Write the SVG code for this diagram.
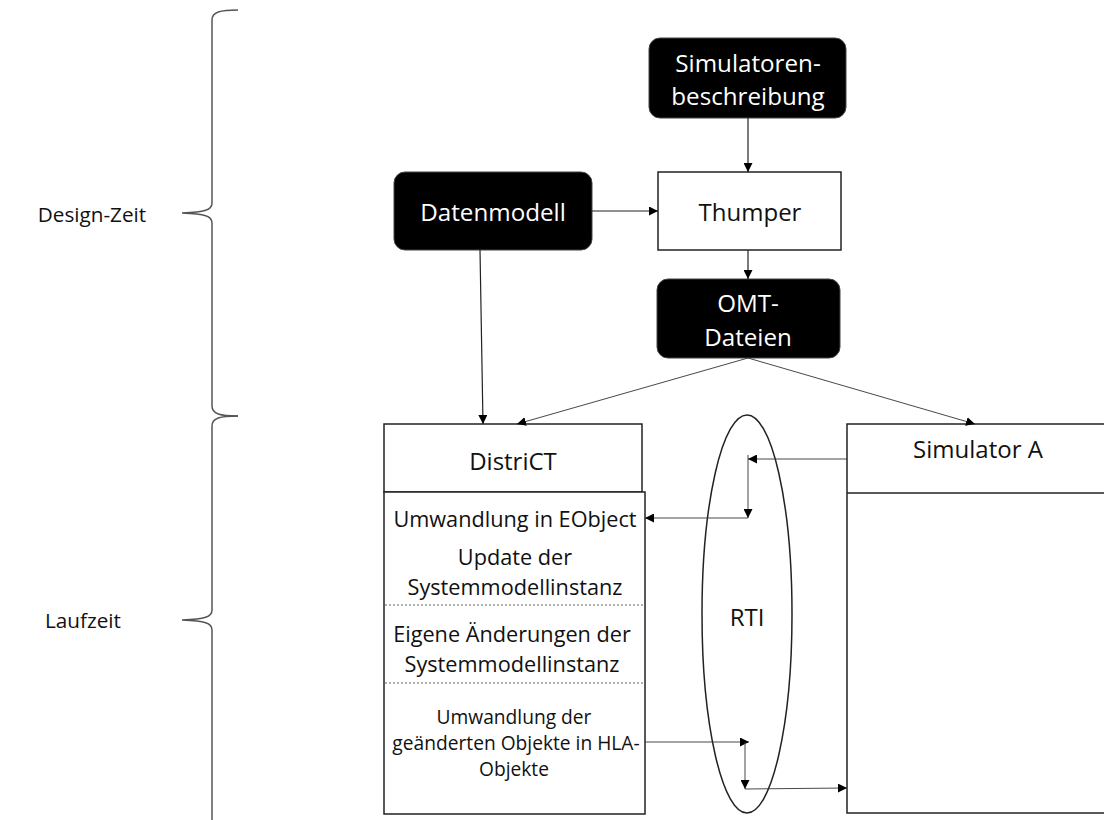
<svg xmlns="http://www.w3.org/2000/svg" width="1104" height="820" viewBox="0 0 1104 820">
  <defs>
    <marker id="ah" viewBox="0 0 10 10" refX="10" refY="5" markerWidth="9" markerHeight="9" markerUnits="userSpaceOnUse" orient="auto">
      <path d="M0,0 L10,5 L0,10 z" fill="#000"/>
    </marker>
    <style>
      text { font-family: "Open Sans", "Noto Sans", sans-serif; text-anchor: middle; dominant-baseline: central; fill: #111; }
      .dark { fill: #000; stroke: #444; stroke-width: 1; }
      .dark-t { fill: #fff; font-size: 24.2px; }
      .box { fill: #fff; stroke: #222; stroke-width: 1.5; }
      .lbl { font-size: 24px; }
      .sub { font-size: 21.7px; }
      .small { font-size: 19.2px; }
      .side { font-size: 20.7px; }
      .brace { fill: none; stroke: #555; stroke-width: 1.5; }
      .conn { fill: none; stroke: #222; stroke-width: 1.2; marker-end: url(#ah); }
      .thin { fill: none; stroke: #333; stroke-width: 0.9; marker-end: url(#ah); }
      .dash { stroke: #666; stroke-width: 1; stroke-dasharray: 2 2; }
    </style>
  </defs>

  <rect width="1104" height="820" fill="#fff"/>

  <!-- phase braces -->
  <g id="phases">
    <path class="brace" d="M238,10 C220,10 212,12 212,20 L212,203 C212,210 205,212 182,213 C205,214 212,216 212,223 L212,406 C212,414 220,416 238,416"/>
    <path class="brace" d="M238,416 C220,416 212,418 212,426 L212,610 C212,617 205,619 182,620 C205,621 212,623 212,630 L212,830"/>
    <text class="side" x="92" y="214">Design-Zeit</text>
    <text class="side" x="83" y="620">Laufzeit</text>
  </g>

  <!-- design-time inputs -->
  <g id="simbeschreibung">
    <rect class="dark" x="649" y="38" width="197" height="80" rx="11"/>
    <text class="dark-t" x="748" y="62">Simulatoren-</text>
    <text class="dark-t" x="748" y="95">beschreibung</text>
  </g>

  <g id="datenmodell">
    <rect class="dark" x="394" y="172" width="198" height="78" rx="11"/>
    <text class="dark-t" x="493" y="211">Datenmodell</text>
  </g>

  <g id="thumper">
    <rect class="box" x="658" y="172" width="183" height="78"/>
    <text class="lbl" x="750" y="211">Thumper</text>
  </g>

  <g id="omt">
    <rect class="dark" x="657" y="279" width="183" height="79" rx="11"/>
    <text class="dark-t" x="748" y="302">OMT-</text>
    <text class="dark-t" x="748" y="336">Dateien</text>
  </g>

  <!-- runtime components -->
  <g id="districT">
    <rect class="box" x="384" y="424" width="258" height="68"/>
    <text class="lbl" x="513" y="460">DistriCT</text>
    <rect class="box" x="384" y="492" width="261" height="322"/>
    <text class="sub" x="515" y="518">Umwandlung in EObject</text>
    <text class="sub" x="515" y="556">Update der</text>
    <text class="sub" x="515" y="586">Systemmodellinstanz</text>
    <line class="dash" x1="385" y1="605" x2="644" y2="605"/>
    <text class="sub" x="512" y="633">Eigene Änderungen der</text>
    <text class="sub" x="512" y="663">Systemmodellinstanz</text>
    <line class="dash" x1="385" y1="683" x2="644" y2="683"/>
    <text class="small" x="514" y="716">Umwandlung der</text>
    <text class="small" x="516" y="742">geänderten Objekte in HLA-</text>
    <text class="small" x="514" y="768">Objekte</text>
  </g>

  <g id="rti">
    <ellipse cx="747" cy="614" rx="45" ry="199" fill="none" stroke="#222" stroke-width="1.5"/>
    <text class="lbl" x="747" y="616">RTI</text>
  </g>

  <g id="simulatorA">
    <rect class="box" x="847" y="424" width="270" height="389"/>
    <line x1="847" y1="493" x2="1104" y2="493" stroke="#222" stroke-width="1.5"/>
    <text class="lbl" x="978" y="448">Simulator A</text>
  </g>

  <!-- connectors -->
  <g id="connectors">
    <line class="conn" x1="748" y1="118" x2="748" y2="172"/>
    <line class="conn" x1="592" y1="211" x2="658" y2="211"/>
    <line class="conn" x1="748" y1="250" x2="748" y2="279"/>
    <line class="conn" x1="480" y1="250" x2="483" y2="424"/>
    <line class="thin" x1="748" y1="358" x2="517" y2="424"/>
    <line class="thin" x1="748" y1="358" x2="975" y2="424"/>
    <line class="thin" x1="847" y1="459" x2="748" y2="459"/>
    <line class="thin" x1="748" y1="455" x2="748" y2="518"/>
    <line class="thin" x1="748" y1="518" x2="645" y2="518"/>
    <line class="thin" x1="645" y1="742" x2="749" y2="742"/>
    <line class="thin" x1="745" y1="742" x2="745" y2="789"/>
    <line class="thin" x1="745" y1="789" x2="847" y2="788"/>
  </g>
</svg>
